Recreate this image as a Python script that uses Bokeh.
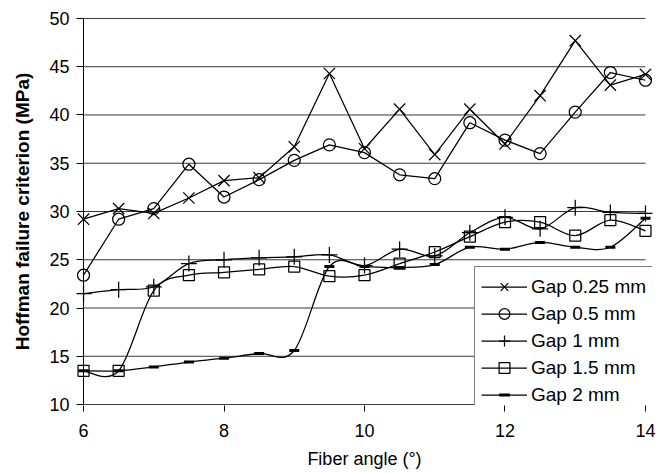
from bokeh.plotting import figure
from bokeh.models import Range1d, FixedTicker
from bokeh.embed import file_html
from bokeh.resources import INLINE

# ---- data ----
angles = [6, 6.5, 7, 7.5, 8, 8.5, 9, 9.5, 10, 10.5, 11, 11.5, 12, 12.5, 13, 13.5, 14]
gap_025 = [29.2, 30.3, 29.8, 31.4, 33.2, 33.5, 36.7, 44.3, 36.5, 40.6, 35.9, 40.6, 37.0, 42.0, 47.7, 43.1, 44.2]
gap_05 = [23.4, 29.2, 30.3, 34.9, 31.5, 33.3, 35.3, 36.9, 36.1, 33.8, 33.4, 39.2, 37.4, 36.0, 40.3, 44.4, 43.6]
gap_1 = [21.5, 21.9, 22.2, 24.6, 25.0, 25.2, 25.3, 25.5, 24.4, 26.1, 25.4, 27.8, 29.4, 28.2, 30.4, 29.9, 29.8]
gap_15 = [13.5, 13.5, 21.8, 23.4, 23.7, 24.0, 24.3, 23.3, 23.4, 24.6, 25.8, 27.4, 28.9, 28.9, 27.5, 29.1, 28.0]
gap_2 = [13.5, 13.5, 13.9, 14.4, 14.8, 15.3, 15.6, 24.3, 24.3, 24.2, 24.5, 26.3, 26.1, 26.8, 26.3, 26.3, 29.3]

series_labels = ["Gap 0.25 mm", "Gap 0.5 mm", "Gap 1 mm", "Gap 1.5 mm", "Gap 2 mm"]
x_ticks = [6, 8, 10, 12, 14]
y_ticks = [10, 15, 20, 25, 30, 35, 40, 45, 50]

FONT = "Liberation Sans"


def smooth_segments(xs, ys):
    """Bezier control points (Excel-like smoothed line) for each segment."""
    n = len(xs)
    d = dict(x0=[], y0=[], x1=[], y1=[], cx0=[], cy0=[], cx1=[], cy1=[])
    for i in range(n - 1):
        pm = i - 1 if i > 0 else i
        pp = i + 2 if i + 2 < n else i + 1
        d["x0"].append(xs[i]); d["y0"].append(ys[i])
        d["x1"].append(xs[i + 1]); d["y1"].append(ys[i + 1])
        d["cx0"].append(xs[i] + (xs[i + 1] - xs[pm]) / 6)
        d["cy0"].append(ys[i] + (ys[i + 1] - ys[pm]) / 6)
        d["cx1"].append(xs[i + 1] - (xs[pp] - xs[i]) / 6)
        d["cy1"].append(ys[i + 1] - (ys[pp] - ys[i]) / 6)
    return d


p = figure(width=656, height=473,
           x_range=Range1d(5.9, 14.1), y_range=Range1d(9.9, 50.1),
           output_backend="svg", toolbar_location=None,
           min_border_left=76, min_border_right=4, min_border_top=17, min_border_bottom=68)
p.outline_line_color = None
p.xgrid.visible = False
p.ygrid.visible = False
p.background_fill_color = "white"

# horizontal gridlines between the first and last angle
p.segment(x0=[angles[0]] * len(y_ticks), x1=[angles[-1]] * len(y_ticks),
          y0=y_ticks, y1=y_ticks, line_color="#3a3a3a", line_width=1)
# vertical axis line at the first angle
p.segment(x0=[angles[0]], x1=[angles[0]], y0=[y_ticks[0]], y1=[y_ticks[-1]],
          line_color="black", line_width=1)

LW = 1.25
# Gap 0.25 mm
p.line(angles, gap_025, line_color="black", line_width=LW, legend_label=series_labels[0])
p.scatter(angles, gap_025, marker="x", size=16, line_color="black", line_width=LW,
          legend_label=series_labels[0])
# Gap 0.5 mm
p.line(angles, gap_05, line_color="black", line_width=LW, legend_label=series_labels[1])
p.scatter(angles, gap_05, marker="circle", size=12, line_color="black", fill_color=None,
          line_width=LW, legend_label=series_labels[1])
# Gap 1 mm
p.bezier(**smooth_segments(angles, gap_1), line_color="black", line_width=LW,
         legend_label=series_labels[2])
p.scatter(angles, gap_1, marker="cross", size=16, line_color="black", line_width=LW,
          legend_label=series_labels[2])
# Gap 1.5 mm
p.bezier(**smooth_segments(angles, gap_15), line_color="black", line_width=LW,
         legend_label=series_labels[3])
p.scatter(angles, gap_15, marker="square", size=11, line_color="black", fill_color=None,
          line_width=LW, legend_label=series_labels[3])
# Gap 2 mm
p.bezier(**smooth_segments(angles, gap_2), line_color="black", line_width=LW,
         legend_label=series_labels[4])
p.scatter(angles, gap_2, marker="dash", size=10, line_color="black", line_width=3,
          legend_label=series_labels[4])

# y axis
yax = p.yaxis[0]
yax.ticker = FixedTicker(ticks=y_ticks)
yax.minor_tick_line_color = None
yax.major_tick_in = 7
yax.major_tick_out = 0
yax.major_tick_line_color = "black"
yax.axis_line_color = None
yax.major_label_standoff = 7
yax.major_label_text_font = FONT
yax.major_label_text_font_size = "18px"
yax.major_label_text_color = "black"
yax.axis_label = "Hoffman failure criterion (MPa)"
yax.axis_label_text_font = FONT
yax.axis_label_text_font_size = "19px"
yax.axis_label_text_font_style = "bold"
yax.axis_label_text_color = "black"
yax.axis_label_standoff = 13

# x axis
xax = p.xaxis[0]
xax.ticker = FixedTicker(ticks=x_ticks)
xax.minor_tick_line_color = None
xax.major_tick_in = 0
xax.major_tick_out = 6
xax.major_tick_line_color = "black"
xax.axis_line_color = None
xax.major_label_standoff = 12
xax.major_label_text_font = FONT
xax.major_label_text_font_size = "18px"
xax.major_label_text_color = "black"
xax.axis_label = "Fiber angle (°)"
xax.axis_label_text_font = FONT
xax.axis_label_text_font_size = "18px"
xax.axis_label_text_font_style = "normal"
xax.axis_label_text_color = "black"
xax.axis_label_standoff = 9

# legend
lg = p.legend[0]
lg.location = (398, -10)
lg.margin = 0
lg.padding = 6
lg.spacing = 0
lg.label_height = 27
lg.glyph_height = 27
lg.glyph_width = 46
lg.label_standoff = 4
lg.label_text_font = FONT
lg.label_text_font_size = "19px"
lg.label_text_color = "black"
lg.border_line_color = "black"
lg.border_line_width = 1
lg.background_fill_color = "white"
lg.background_fill_alpha = 1.0

open("out.html", "w").write(file_html(p, INLINE))
